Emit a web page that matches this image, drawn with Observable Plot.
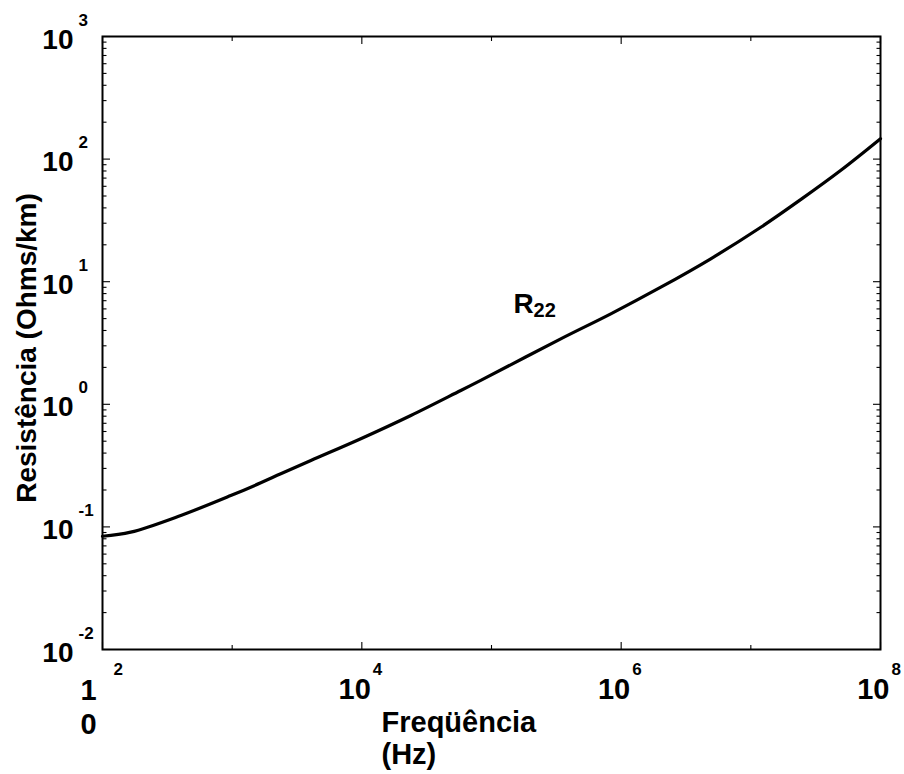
<!DOCTYPE html>
<html><head><meta charset="utf-8">
<script src="https://cdn.jsdelivr.net/npm/d3@7"></script>
<script src="https://cdn.jsdelivr.net/npm/@observablehq/plot@0.6"></script>
<style>body{margin:0;background:#fff} svg{display:block}</style>
</head><body><div id="chart"></div>
<script>
// Curve R22 (frequency in Hz, resistance in Ohms/km)
const frequency  = [100, 165, 402, 975, 1663, 2371, 4046, 9817, 23880, 57940, 82600, 342000, 831800, 2023000, 4909000, 11940000, 24210000, 49200000, 100000000];
const resistance = [0.0839, 0.0906, 0.124, 0.180, 0.229, 0.271, 0.348, 0.524, 0.811, 1.297, 1.567, 3.42, 5.47, 9.02, 15.38, 27.8, 46.7, 80.7, 146.6];

// Tick values and labels
const yDecades   = [1e-2, 1e-1, 1e0, 1e1, 1e2, 1e3];
const yExponents = ["-2", "-1", "0", "1", "2", "3"];
const xLongTicks  = [1e2, 1e4, 1e6, 1e8];
const xShortTicks = [1e3, 1e5, 1e7];
const xLabelTicks = [1e4, 1e6, 1e8];
const xExponents  = ["4", "6", "8"];
const xFirstTick  = [1e2];
const xFirstText  = ["1\n0"];
const xFirstExp   = ["2"];

// Annotation
const curveName = ["R"];
const curveSub  = ["22"];
const curveLabelX = [148000];
const curveLabelY = [5.6];

const xTitle = "Freqüência\n(Hz)";
const yTitle = "Resistência (Ohms/km)";

const yMinor = [];
for (const d of yDecades.slice(0, -1)) for (let k = 2; k <= 9; ++k) yMinor.push(k * d);

const font = "'Liberation Sans', Arial, Helvetica, sans-serif";
const data = frequency.map((f, i) => ({f, r: resistance[i]}));
const noText = () => "";
const tk = {tickFormat: noText, label: null, strokeWidth: 1.1, stroke: "black"};

const chart = Plot.plot({
  width: 904,
  height: 774,
  marginLeft: 102,
  marginRight: 24,
  marginTop: 36,
  marginBottom: 125,
  style: {fontFamily: font, background: "white", color: "black"},
  x: {type: "log", domain: [1e2, 1e8]},
  y: {type: "log", domain: [1e-2, 1e3]},
  marks: [
    // inward ticks (outward ticks shifted inside by their own length)
    Plot.axisY(yDecades, {...tk, anchor: "left", tickSize: 8, dx: 8}),
    Plot.axisY(yMinor, {...tk, anchor: "left", tickSize: 4.5, dx: 4.5}),
    Plot.axisY(yDecades, {...tk, anchor: "right", tickSize: 8, dx: -8}),
    Plot.axisY(yMinor, {...tk, anchor: "right", tickSize: 4.5, dx: -4.5}),
    Plot.axisX(xLongTicks, {...tk, anchor: "bottom", tickSize: 7, dy: -7}),
    Plot.axisX(xShortTicks, {...tk, anchor: "bottom", tickSize: 4, dy: -4}),
    Plot.axisX(xLongTicks, {...tk, anchor: "top", tickSize: 7, dy: 7}),
    Plot.axisX(xShortTicks, {...tk, anchor: "top", tickSize: 4, dy: 4}),
    Plot.frame({stroke: "black", strokeWidth: 2}),
    // curve
    Plot.line(data, {x: "f", y: "r", stroke: "black", strokeWidth: 3.2, curve: "catmull-rom"}),
    // y tick labels
    Plot.text(yDecades, {y: d => d, frameAnchor: "left", text: () => "10", textAnchor: "end", lineAnchor: "bottom",
      dx: -29, dy: 12, fontSize: 28, fontWeight: "bold", fill: "black"}),
    Plot.text(yDecades, {y: d => d, frameAnchor: "left", text: (d, i) => yExponents[i], textAnchor: "start", lineAnchor: "bottom",
      dx: -24, dy: -11, fontSize: 17, fontWeight: "bold", fill: "black"}),
    // x tick labels
    Plot.text(xLabelTicks, {x: d => d, frameAnchor: "bottom", text: () => "10", textAnchor: "end", lineAnchor: "bottom",
      dx: 9, dy: 49, fontSize: 29, fontWeight: "bold", fill: "black"}),
    Plot.text(xLabelTicks, {x: d => d, frameAnchor: "bottom", text: (d, i) => xExponents[i], textAnchor: "start", lineAnchor: "bottom",
      dx: 11, dy: 25, fontSize: 17, fontWeight: "bold", fill: "black"}),
    Plot.text(xFirstTick, {x: d => d, frameAnchor: "bottom", text: (d, i) => xFirstText[i], textAnchor: "middle", lineAnchor: "top",
      dx: -14, dy: 26, lineHeight: 34 / 29, fontSize: 29, fontWeight: "bold", fill: "black"}),
    Plot.text(xFirstTick, {x: d => d, frameAnchor: "bottom", text: (d, i) => xFirstExp[i], textAnchor: "start", lineAnchor: "bottom",
      dx: 11, dy: 25, fontSize: 17, fontWeight: "bold", fill: "black"}),
    // axis titles
    Plot.text([xTitle], {frameAnchor: "bottom-left", text: d => d, textAnchor: "start", lineAnchor: "top",
      dx: 279, dy: 60, lineHeight: 32 / 29, fontSize: 29, fontWeight: "bold", fill: "black"}),
    Plot.text([yTitle], {frameAnchor: "left", text: d => d, rotate: -90, textAnchor: "middle", lineAnchor: "middle",
      dx: -75, dy: 5, fontSize: 28, fontWeight: "bold", fill: "black"}),
    // curve label
    Plot.text(curveName, {x: (d, i) => curveLabelX[i], y: (d, i) => curveLabelY[i], text: d => d, textAnchor: "start", lineAnchor: "bottom",
      fontSize: 28, fontWeight: "bold", fill: "black"}),
    Plot.text(curveSub, {x: (d, i) => curveLabelX[i], y: (d, i) => curveLabelY[i], text: d => d, textAnchor: "start", lineAnchor: "bottom",
      dx: 20, dy: 4, fontSize: 20, fontWeight: "bold", fill: "black"})
  ]
});
document.getElementById("chart").appendChild(chart);
</script>
</body></html>
